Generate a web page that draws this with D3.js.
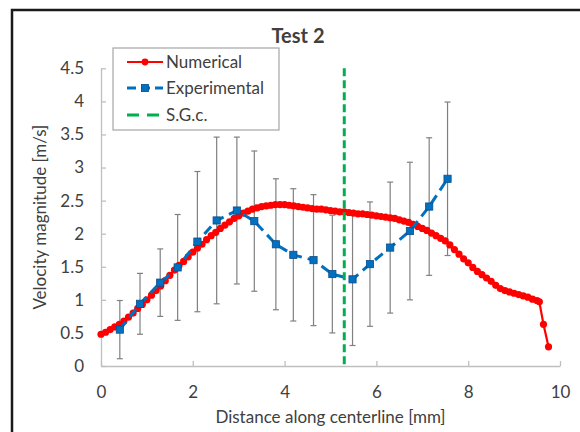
<!DOCTYPE html>
<html>
<head>
<meta charset="utf-8">
<script src="https://cdn.jsdelivr.net/npm/d3@7"></script>
<style>
  html, body { margin: 0; padding: 0; background: #fff; }
  svg { display: block; }
  text { font-family: Lato, "Open Sans", sans-serif; fill: #404040; }
</style>
</head>
<body>
<svg id="chart" width="580" height="432"></svg>
<script>
// Numerical solution along the centerline (distance in mm, velocity in m/s)
const numX = [0.0,0.1,0.2,0.3,0.4,0.5,0.6,0.7,0.8,0.9,1.0,1.1,1.2,1.3,1.4,1.5,1.6,1.7,1.8,1.9,
  2.0,2.1,2.2,2.3,2.4,2.5,2.6,2.7,2.8,2.9,3.0,3.1,3.2,3.3,3.4,3.5,3.6,3.7,3.8,3.9,
  4.0,4.1,4.2,4.3,4.4,4.5,4.6,4.7,4.8,4.9,5.0,5.1,5.2,5.3,5.4,5.5,5.6,5.7,5.8,5.9,
  6.0,6.1,6.2,6.3,6.4,6.5,6.6,6.7,6.8,6.9,7.0,7.1,7.2,7.3,7.4,7.5,7.6,7.7,7.8,7.9,
  8.0,8.1,8.2,8.3,8.4,8.5,8.6,8.7,8.8,8.9,9.0,9.1,9.2,9.3,9.4,9.5,9.55,9.64,9.75];
const numY = [0.48,0.51,0.55,0.59,0.63,0.68,0.74,0.80,0.87,0.93,1.00,1.07,1.14,1.21,1.29,1.37,1.45,1.52,1.58,1.65,
  1.72,1.78,1.84,1.91,1.97,2.02,2.08,2.13,2.18,2.23,2.27,2.31,2.34,2.37,2.39,2.41,2.42,2.43,2.44,2.44,
  2.44,2.43,2.42,2.41,2.40,2.39,2.38,2.37,2.37,2.36,2.35,2.34,2.33,2.33,2.32,2.31,2.30,2.30,2.29,2.28,
  2.27,2.26,2.25,2.24,2.23,2.21,2.19,2.17,2.14,2.11,2.08,2.05,2.01,1.97,1.93,1.89,1.83,1.76,1.69,1.62,
  1.56,1.49,1.43,1.38,1.33,1.28,1.22,1.17,1.14,1.12,1.10,1.08,1.06,1.04,1.01,0.99,0.97,0.63,0.29];

// Experimental measurements with symmetric error
const expX = [0.41,0.85,1.29,1.67,2.10,2.52,2.96,3.34,3.81,4.19,4.63,5.04,5.48,5.86,6.30,6.73,7.15,7.55];
const expY = [0.55,0.94,1.26,1.49,1.88,2.20,2.35,2.19,1.84,1.68,1.60,1.39,1.31,1.54,1.79,2.04,2.41,2.83];
const expErr = [0.44,0.46,0.51,0.80,1.06,1.26,1.11,1.06,0.99,1.00,0.99,0.89,1.00,0.94,0.99,1.04,1.04,1.16];

// S.G.c. position
const sgcX = 5.3;

const xTicks = [0, 2, 4, 6, 8, 10];
const yTicks = [0, 0.5, 1, 1.5, 2, 2.5, 3, 3.5, 4, 4.5];
const legendLabels = ["Numerical", "Experimental", "S.G.c."];

const RED = "#ff0000", BLUE = "#0070c0", GREEN = "#00b050", AXIS = "#bfbfbf", ERR = "#808080";

const svg = d3.select("#chart");

// chart frame
svg.append("rect")
  .attr("x", 12).attr("y", 10).attr("width", 572).attr("height", 440)
  .attr("fill", "#fff").attr("stroke", "#1a1a1a").attr("stroke-width", 2.5);

const x = d3.scaleLinear().domain([0, 10]).range([101, 560]);
const y = d3.scaleLinear().domain([0, 4.5]).range([366, 68.3]);

// axes with inward ticks
const xAxis = svg.append("g").attr("transform", `translate(0,${y(0)})`)
  .call(d3.axisBottom(x).tickValues(xTicks).tickFormat(d3.format("d"))
    .tickSizeInner(-5).tickSizeOuter(0).tickPadding(20));
const yAxis = svg.append("g").attr("transform", `translate(${x(0)},0)`)
  .call(d3.axisLeft(y).tickValues(yTicks).tickFormat(d => String(d))
    .tickSizeInner(-5).tickSizeOuter(0).tickPadding(17));
[xAxis, yAxis].forEach(g => {
  g.select(".domain").attr("stroke", AXIS).attr("stroke-width", 1.3);
  g.selectAll(".tick line").attr("stroke", AXIS).attr("stroke-width", 1.3);
  g.selectAll(".tick text").attr("fill", "#404040").style("font-size", "17px")
    .style("font-family", "Lato, 'Open Sans', sans-serif");
});

// error bars
const eb = svg.append("g").attr("stroke", ERR).attr("stroke-width", 1.2);
expX.forEach((v, i) => {
  const cx = x(v), top = y(expY[i] + expErr[i]), bot = y(expY[i] - expErr[i]);
  eb.append("line").attr("x1", cx).attr("x2", cx).attr("y1", top).attr("y2", bot);
  eb.append("line").attr("x1", cx - 3).attr("x2", cx + 3).attr("y1", top).attr("y2", top);
  eb.append("line").attr("x1", cx - 3).attr("x2", cx + 3).attr("y1", bot).attr("y2", bot);
});

// numerical series
const numPts = numX.map((v, i) => [v, numY[i]]);
svg.append("path").datum(numPts)
  .attr("d", d3.line().x(d => x(d[0])).y(d => y(d[1])))
  .attr("fill", "none").attr("stroke", RED).attr("stroke-width", 2.2);
svg.append("g").selectAll("circle").data(numPts).join("circle")
  .attr("cx", d => x(d[0])).attr("cy", d => y(d[1])).attr("r", 3.6).attr("fill", RED);

// experimental series
const expPts = expX.map((v, i) => [v, expY[i]]);
svg.append("path").datum(expPts)
  .attr("d", d3.line().x(d => x(d[0])).y(d => y(d[1])))
  .attr("fill", "none").attr("stroke", BLUE).attr("stroke-width", 3)
  .attr("stroke-dasharray", "10,6");
svg.append("g").selectAll("rect").data(expPts).join("rect")
  .attr("x", d => x(d[0]) - 3.6).attr("y", d => y(d[1]) - 3.6)
  .attr("width", 7.2).attr("height", 7.2)
  .attr("fill", BLUE).attr("stroke", "#0b4f8a").attr("stroke-width", 0.8);

// S.G.c. vertical line
svg.append("line")
  .attr("x1", x(sgcX)).attr("x2", x(sgcX)).attr("y1", y(4.5)).attr("y2", y(0))
  .attr("stroke", GREEN).attr("stroke-width", 3).attr("stroke-dasharray", "8,4");

// title and axis titles
svg.append("text").attr("x", 298).attr("y", 43).attr("text-anchor", "middle")
  .style("font-size", "20px").style("font-weight", "bold").attr("fill", "#1a1a1a").text("Test 2");
svg.append("text").attr("x", (x(0) + x(10)) / 2).attr("y", 423).attr("text-anchor", "middle")
  .style("font-size", "17px").text("Distance along centerline [mm]");
svg.append("text").attr("transform", `translate(46,${(y(0) + y(4.5)) / 2}) rotate(-90)`)
  .attr("text-anchor", "middle").style("font-size", "17px").text("Velocity magnitude [m/s]");

// legend
const lg = svg.append("g");
lg.append("rect").attr("x", 113).attr("y", 48).attr("width", 166).attr("height", 82)
  .attr("fill", "#fff").attr("stroke", "#a6a6a6").attr("stroke-width", 1.2);
const rowsY = [62, 88, 115];
const x0 = 127, x1 = 163;
// Numerical
lg.append("line").attr("x1", x0).attr("x2", x1).attr("y1", rowsY[0]).attr("y2", rowsY[0])
  .attr("stroke", RED).attr("stroke-width", 2.2);
lg.append("circle").attr("cx", (x0 + x1) / 2).attr("cy", rowsY[0]).attr("r", 3.4).attr("fill", RED);
// Experimental
lg.append("line").attr("x1", x0).attr("x2", x1).attr("y1", rowsY[1]).attr("y2", rowsY[1])
  .attr("stroke", BLUE).attr("stroke-width", 3).attr("stroke-dasharray", "9,5");
lg.append("rect").attr("x", (x0 + x1) / 2 - 3.6).attr("y", rowsY[1] - 3.6).attr("width", 7.2).attr("height", 7.2)
  .attr("fill", BLUE).attr("stroke", "#0b4f8a").attr("stroke-width", 0.8);
// S.G.c.
lg.append("line").attr("x1", x0).attr("x2", x1).attr("y1", rowsY[2]).attr("y2", rowsY[2])
  .attr("stroke", GREEN).attr("stroke-width", 3).attr("stroke-dasharray", "12,8");
legendLabels.forEach((t, i) => {
  lg.append("text").attr("x", 166).attr("y", rowsY[i]).attr("dy", "0.35em")
    .style("font-size", "17px").attr("fill", "#1a1a1a").text(t);
});
</script>
</body>
</html>
